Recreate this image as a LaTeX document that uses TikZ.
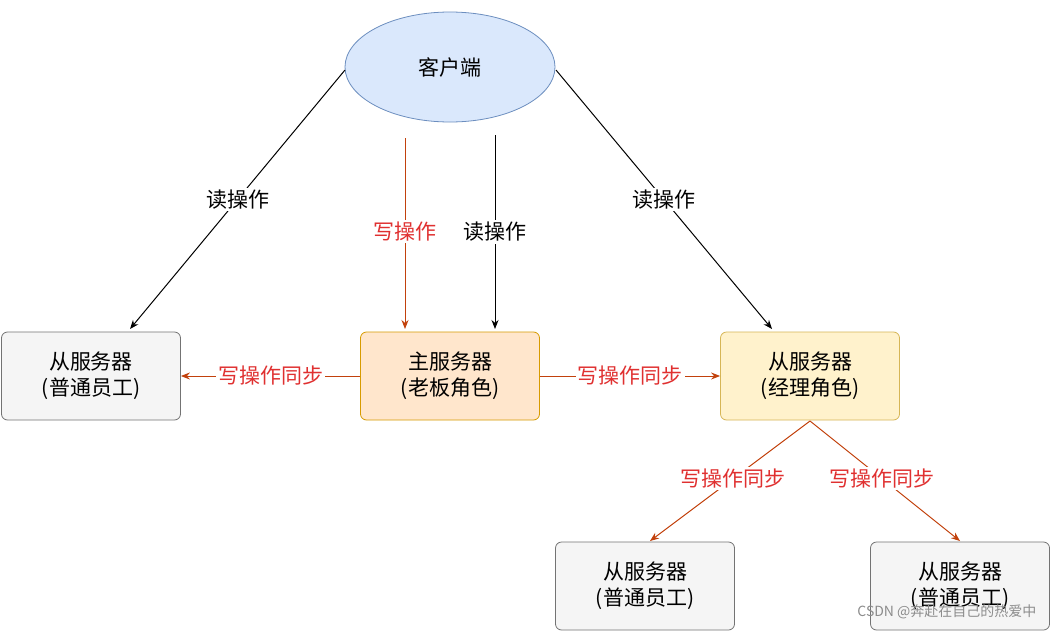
\documentclass[tikz,border=0pt]{standalone}
\usepackage{fontspec}
\setmainfont{Noto Sans CJK SC}
\usetikzlibrary{shapes.geometric,arrows.meta}
\definecolor{redl}{HTML}{C2410C}
\definecolor{redt}{HTML}{E03030}
\definecolor{bfill}{HTML}{DAE8FC}
\definecolor{bdraw}{HTML}{6C8EBF}
\definecolor{yfill}{HTML}{FFF2CC}
\definecolor{ydraw}{HTML}{D6B656}
\definecolor{ofill}{HTML}{FFE6CC}
\definecolor{odraw}{HTML}{D79B00}
\tikzset{
 box/.style={draw,rounded corners=6pt,minimum width=179pt,minimum height=88pt,align=center,font=\fontsize{21}{26}\selectfont,line width=0.8pt},
 lab/.style={fill=white,font=\fontsize{21}{25}\selectfont,inner sep=2pt},
 rd/.style={-{Stealth[length=9pt,width=7pt]},line width=1pt},
 wr/.style={-{Stealth[length=9pt,width=7pt]},line width=1pt,draw=redl},
}
\begin{document}
\begin{tikzpicture}[x=1pt,y=-1pt]
\useasboundingbox[fill=white] (0,0) rectangle (1052,632);
\node[ellipse,draw=bdraw,fill=bfill,minimum width=210pt,minimum height=110pt,line width=0.8pt,font=\fontsize{21}{25}\selectfont] (c) at (450,67) {客户端};
\node[box,fill=black!4,draw=black!55] (l) at (91,376) {从服务器\\(普通员工)};
\node[box,fill=ofill,draw=odraw] (m) at (450,376) {主服务器\\(老板角色)};
\node[box,fill=yfill,draw=ydraw] (r) at (810,376) {从服务器\\(经理角色)};
\node[box,fill=black!4,draw=black!55] (b1) at (645,586) {从服务器\\(普通员工)};
\node[box,fill=black!4,draw=black!55] (b2) at (960,586) {从服务器\\(普通员工)};
\coordinate (s1) at (345,70); \coordinate (e1) at (130,329);
\coordinate (s2) at (405,138); \coordinate (e2) at (405,329);
\coordinate (s3) at (495,135); \coordinate (e3) at (495,329);
\coordinate (s4) at (556,70); \coordinate (e4) at (772,329);
\coordinate (rb) at (810,421);
\coordinate (e5) at (650,541); \coordinate (e6) at (960,541);
\draw[rd] (s1) -- node[lab,pos=0.5]{读操作} (e1);
\draw[wr] (s2) -- node[lab,text=redt,pos=0.49]{写操作} (e2);
\draw[rd] (s3) -- node[lab,pos=0.5]{读操作} (e3);
\draw[rd] (s4) -- node[lab,pos=0.5]{读操作} (e4);
\draw[wr] (m.west) -- node[lab,text=redt]{写操作同步} (l.east);
\draw[wr] (m.east) -- node[lab,text=redt]{写操作同步} (r.west);
\draw[wr] (rb) -- node[lab,text=redt,pos=0.48]{写操作同步} (e5);
\draw[wr] (rb) -- node[lab,text=redt,pos=0.48]{写操作同步} (e6);
\node[text=black!45,font=\fontsize{14}{16}\selectfont,anchor=east] (wm) at (1040,612) {CSDN @奔赴在自己的热爱中};
\end{tikzpicture}
\end{document}
